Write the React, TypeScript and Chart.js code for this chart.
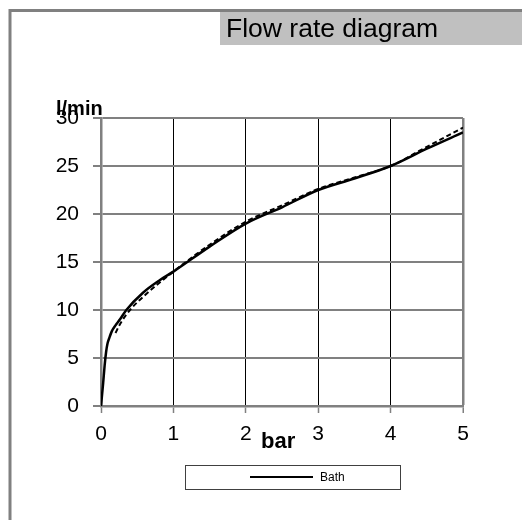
import React, { useEffect, useRef } from "react";
import { Chart, registerables } from "chart.js";

Chart.register(...registerables);

const bathPressure = [0, 0.03, 0.05, 0.07, 0.09, 0.12, 0.15, 0.2, 0.26, 0.35, 0.58, 0.81, 1, 1.5, 2, 2.5, 3, 3.5, 4, 4.5, 5];
const bathFlow = [0, 2.4, 4.2, 5.6, 6.5, 7.2, 7.8, 8.4, 9, 10, 11.8, 13.1, 14, 16.6, 19, 20.7, 22.5, 23.7, 25, 26.8, 28.5];

const refPressure = [0.2, 0.26, 0.4, 0.6, 1, 1.5, 2, 2.5, 3, 3.5, 4, 4.5, 5];
const refFlow = [7.6, 8.5, 10, 11.5, 14, 16.8, 19.2, 20.9, 22.6, 23.8, 25, 27, 29];

const xTicks = [0, 1, 2, 3, 4, 5];
const yTicks = [0, 5, 10, 15, 20, 25, 30];

const TITLE = "Flow rate diagram";
const Y_TITLE = "l/min";
const X_TITLE = "bar";
const SERIES_NAME = "Bath";

const FONT = "'Liberation Sans', Arial, sans-serif";

const decorPlugin = {
  id: "decor",
  beforeDraw(chart: any) {
    const ctx = chart.ctx;
    ctx.save();
    ctx.fillStyle = "#ffffff";
    ctx.fillRect(0, 0, chart.width, chart.height);
    ctx.fillStyle = "#c0c0c0";
    ctx.fillRect(220, 11, 302, 34);
    ctx.strokeStyle = "#808080";
    ctx.lineWidth = 3;
    ctx.beginPath();
    ctx.moveTo(10, 520);
    ctx.lineTo(10, 10.5);
    ctx.lineTo(522, 10.5);
    ctx.stroke();
    ctx.fillStyle = "#000";
    ctx.font = `26.5px ${FONT}`;
    ctx.textAlign = "left";
    ctx.textBaseline = "alphabetic";
    ctx.fillText(TITLE, 226, 37);
    ctx.restore();
  },
  afterDraw(chart: any) {
    const ctx = chart.ctx;
    ctx.save();
    ctx.fillStyle = "#000";
    ctx.textAlign = "left";
    ctx.textBaseline = "alphabetic";
    ctx.font = `bold 20px ${FONT}`;
    ctx.fillText(Y_TITLE, 56, 115);
    ctx.font = `bold 22px ${FONT}`;
    ctx.fillText(X_TITLE, 261, 448);
    ctx.strokeStyle = "#404040";
    ctx.lineWidth = 1;
    ctx.strokeRect(185.5, 465.5, 215, 24);
    ctx.strokeStyle = "#000";
    ctx.lineWidth = 2;
    ctx.beginPath();
    ctx.moveTo(250, 477);
    ctx.lineTo(313, 477);
    ctx.stroke();
    ctx.font = `12px ${FONT}`;
    ctx.fillText(SERIES_NAME, 320, 481);
    ctx.restore();
  },
};

export default function App() {
  const ref = useRef<HTMLCanvasElement>(null);
  useEffect(() => {
    if (!ref.current) return;
    const chart = new Chart(ref.current, {
      type: "line",
      data: {
        datasets: [
          {
            label: "ref",
            data: refPressure.map((x, i) => ({ x, y: refFlow[i] })),
            borderColor: "#000",
            borderWidth: 2,
            borderDash: [5, 3],
            pointRadius: 0,
            cubicInterpolationMode: "monotone",
            fill: false,
          },
          {
            label: SERIES_NAME,
            data: bathPressure.map((x, i) => ({ x, y: bathFlow[i] })),
            borderColor: "#000",
            borderWidth: 2.5,
            pointRadius: 0,
            cubicInterpolationMode: "monotone",
            fill: false,
          },
        ],
      },
      options: {
        animation: false,
        responsive: false,
        devicePixelRatio: 1,
        layout: { padding: { top: 118, right: 59, left: 0, bottom: 0 } },
        plugins: { legend: { display: false }, title: { display: false }, tooltip: { enabled: false } },
        scales: {
          x: {
            type: "linear",
            min: 0,
            max: 5,
            afterFit: (s: any) => {
              s.height = 114;
            },
            afterBuildTicks: (s: any) => {
              s.ticks = xTicks.map((v) => ({ value: v }));
            },
            ticks: {
              font: { family: FONT, size: 21 },
              color: "#000",
              padding: 9,
              maxRotation: 0,
            },
            grid: {
              color: (c: any) => (c.index === xTicks.length - 1 ? "#808080" : "#000"),
              lineWidth: (c: any) => (c.index === xTicks.length - 1 ? 2.5 : 1),
              tickColor: "#808080",
              tickWidth: 1.5,
              tickLength: 7,
            },
            border: { display: true, color: "#808080", width: 2.5 },
          },
          y: {
            type: "linear",
            min: 0,
            max: 30,
            afterFit: (s: any) => {
              s.width = 101;
            },
            afterBuildTicks: (s: any) => {
              s.ticks = yTicks.map((v) => ({ value: v }));
            },
            ticks: {
              font: { family: FONT, size: 21 },
              color: "#000",
              padding: 14,
            },
            grid: {
              color: "#808080",
              lineWidth: 2,
              tickColor: "#808080",
              tickLength: 8,
            },
            border: { display: true, color: "#808080", width: 2.5 },
          },
        },
      },
      plugins: [decorPlugin],
    });
    return () => chart.destroy();
  }, []);
  return (
    <canvas
      ref={ref}
      width={522}
      height={520}
      style={{ position: "absolute", left: 0, top: 0, width: 522, height: 520 }}
    />
  );
}
